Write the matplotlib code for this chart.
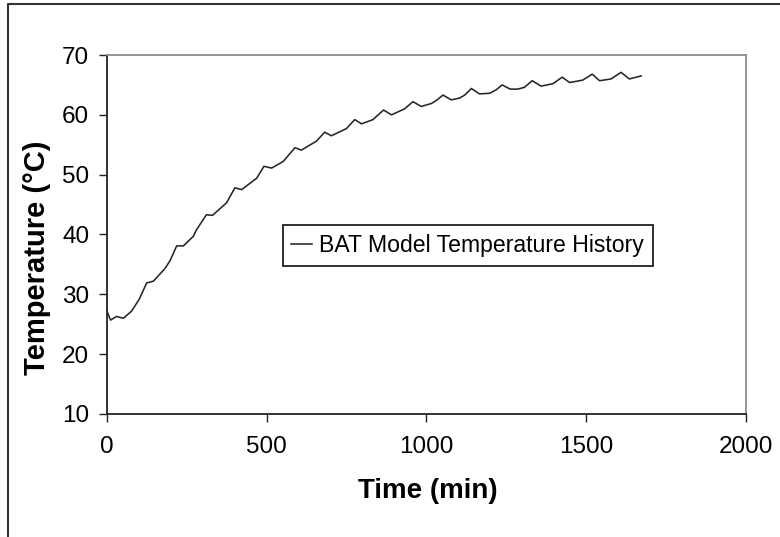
import matplotlib
matplotlib.use("Agg")
import matplotlib.pyplot as plt
from matplotlib.lines import Line2D

# ---- data ----
time_min = [0, 12, 31, 52, 78, 102, 125, 146, 182, 198, 219, 240, 271, 281,
            312, 331, 375, 401, 422, 437, 469, 492, 516, 552, 589, 609, 656,
            682, 703, 750, 776, 797, 833, 866, 891, 932, 958, 984, 1016, 1031,
            1052, 1078, 1104, 1120, 1141, 1166, 1198, 1219, 1237, 1262, 1286,
            1307, 1331, 1359, 1396, 1425, 1448, 1489, 1519, 1542, 1578, 1609,
            1635, 1672]
temperature = [27.3, 25.7, 26.3, 26.0, 27.2, 29.2, 31.9, 32.2, 34.3, 35.6, 38.1,
               38.1, 39.7, 40.8, 43.3, 43.2, 45.3, 47.8, 47.5, 48.1, 49.4, 51.4,
               51.1, 52.2, 54.5, 54.1, 55.6, 57.1, 56.5, 57.7, 59.2, 58.5, 59.2,
               60.8, 60.0, 61.0, 62.2, 61.4, 61.9, 62.4, 63.3, 62.5, 62.8, 63.3,
               64.4, 63.5, 63.6, 64.2, 65.0, 64.3, 64.3, 64.6, 65.7, 64.8, 65.2,
               66.3, 65.4, 65.8, 66.8, 65.7, 66.0, 67.1, 66.0, 66.5]
x_ticks = [0, 500, 1000, 1500, 2000]
y_ticks = [10, 20, 30, 40, 50, 60, 70]
series_label = "BAT Model Temperature History"
x_label = "Time (min)"
y_label = "Temperature (\u00b0C)"

plt.rcParams['font.family'] = ['Liberation Sans', 'DejaVu Sans']

W, H = 780, 537
fig = plt.figure(figsize=(W / 100, H / 100), dpi=100)
fig.patch.set_facecolor('white')

# axes placement (pixels -> fractions)
ax_l, ax_r, ax_t, ax_b = 106.7, 746, 55, 414
ax = fig.add_axes([ax_l / W, 1 - ax_b / H, (ax_r - ax_l) / W, (ax_b - ax_t) / H])

ax.plot(time_min, temperature, color='#262626', lw=1.15, label=series_label)

ax.set_xlim(0, 2000)
ax.set_ylim(10, 70)
ax.set_xticks(x_ticks)
ax.set_yticks(y_ticks)
ax.tick_params(axis='both', direction='out', length=5.5, width=1.0,
               color='#222222', labelsize=17.5, labelcolor='black')
ax.tick_params(axis='x', pad=10.5)
ax.tick_params(axis='y', pad=7)

for side in ('left', 'bottom'):
    ax.spines[side].set_color('#222222')
    ax.spines[side].set_linewidth(1.3)
for side in ('top', 'right'):
    ax.spines[side].set_color('#8c8c8c')
    ax.spines[side].set_linewidth(1.3)

# axis titles
fig.text(428 / W, 1 - 491 / H, x_label, ha='center', va='center',
         fontsize=20, fontweight='bold')
fig.text(37 / W, 1 - 258 / H, y_label, ha='center', va='center',
         rotation=90, fontsize=21, fontweight='bold')

# legend
leg = ax.legend(loc='upper left', bbox_to_anchor=(282.7 / W, 1 - 225 / H),
                bbox_transform=fig.transFigure, fontsize=16.6, frameon=True,
                fancybox=False, shadow=False, handlelength=0.9,
                handletextpad=0.3, borderpad=0.38, borderaxespad=0)
leg.get_frame().set_edgecolor('#222222')
leg.get_frame().set_linewidth(1.3)
leg.get_frame().set_facecolor('white')
leg.get_frame().set_alpha(1)

# outer chart border (left and top visible)
fig.add_artist(Line2D([8 / W, 8 / W, 1.0], [0.0, 1 - 4 / H, 1 - 4 / H],
                      transform=fig.transFigure, color='#333333', lw=1.5))

fig.savefig('out.png', dpi=100, facecolor='white')
